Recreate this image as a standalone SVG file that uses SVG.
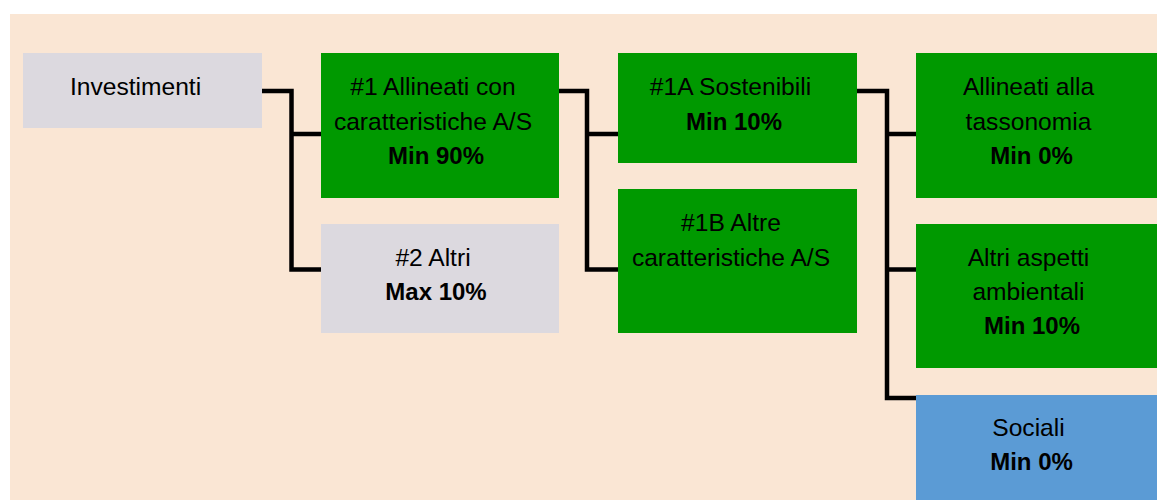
<svg xmlns="http://www.w3.org/2000/svg" width="1159" height="500" viewBox="0 0 1159 500">
<style>
text{font-family:"Liberation Sans",Arial,sans-serif;font-size:24.6px;fill:#000;text-anchor:middle}
.b{font-weight:bold;font-size:24px}
.g{fill:#DCD9DF}
.gr{fill:#009900}
.bl{fill:#5B9BD5}
.c{fill:none;stroke:#000;stroke-width:4.5}
</style>
<rect x="0" y="0" width="1159" height="500" fill="#FFFFFF"/>
<rect x="10" y="14" width="1147" height="486" fill="#FAE6D4"/>
<g id="connectors">
<path class="c" d="M262,91 H291.5 V269.5 H321 M291.5,134 H321"/>
<path class="c" d="M559,91 H587 V269.5 H618 M587,134 H618"/>
<path class="c" d="M857,91 H887 V398 H916 M887,134 H916 M887,269.5 H916"/>
</g>
<g id="investimenti">
<rect class="g" x="23" y="53" width="239" height="75"/>
<text x="135.5" y="95">Investimenti</text>
</g>
<g id="n1">
<rect class="gr" x="321" y="53" width="238" height="145"/>
<text x="433" y="95">#1 Allineati con</text>
<text x="433" y="130">caratteristiche A/S</text>
<text class="b" x="436" y="164">Min 90%</text>
</g>
<g id="n2">
<rect class="g" x="321" y="224" width="238" height="109"/>
<text x="433" y="266">#2 Altri</text>
<text class="b" x="436" y="300">Max 10%</text>
</g>
<g id="n1a">
<rect class="gr" x="618" y="53" width="239" height="110"/>
<text x="730.5" y="95">#1A Sostenibili</text>
<text class="b" x="734" y="130">Min 10%</text>
</g>
<g id="n1b">
<rect class="gr" x="618" y="189" width="239" height="144"/>
<text x="731" y="231">#1B Altre</text>
<text x="731" y="266">caratteristiche A/S</text>
</g>
<g id="tassonomia">
<rect class="gr" x="916" y="53" width="241" height="145"/>
<text x="1028.5" y="95">Allineati alla</text>
<text x="1028.5" y="130">tassonomia</text>
<text class="b" x="1031.5" y="164">Min 0%</text>
</g>
<g id="ambientali">
<rect class="gr" x="916" y="224" width="241" height="144"/>
<text x="1028.5" y="266">Altri aspetti</text>
<text x="1028.5" y="300">ambientali</text>
<text class="b" x="1032" y="334">Min 10%</text>
</g>
<g id="sociali">
<rect class="bl" x="916" y="395" width="241" height="105"/>
<text x="1028.5" y="436">Sociali</text>
<text class="b" x="1031.5" y="470">Min 0%</text>
</g>
</svg>
